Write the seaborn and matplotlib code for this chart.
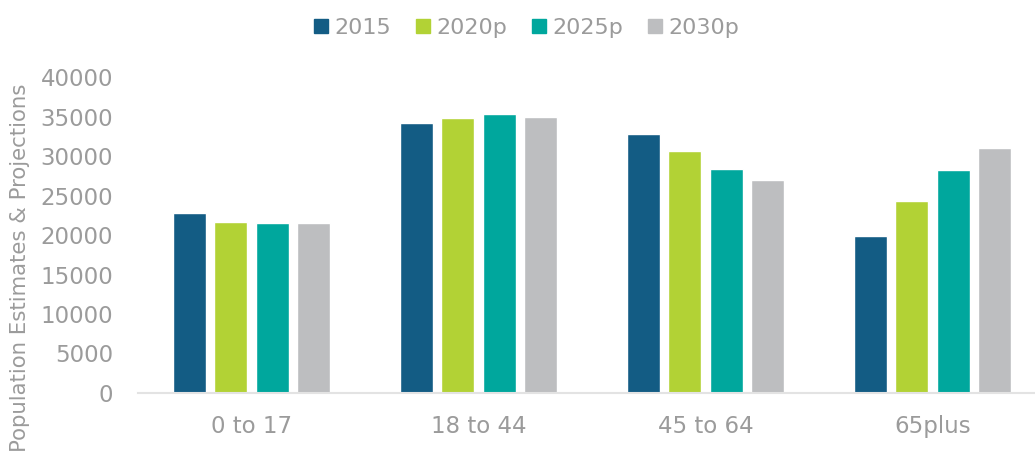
import pandas as pd
import numpy as np
import matplotlib.pyplot as plt
import seaborn as sns

# age groups and the four series
age_groups = ['0 to 17', '18 to 44', '45 to 64', '65plus']
years = ['2015', '2020p', '2025p', '2030p']
vals_2015 = [22750, 34130, 32780, 19870]
vals_2020p = [21680, 34810, 30590, 24300]
vals_2025p = [21470, 35320, 28300, 28230]
vals_2030p = [21520, 34980, 26960, 30970]
colors = ['#135C84', '#B2D235', '#00A79D', '#BDBEC0']
text_grey = '#9B9B9B'

# long format table for seaborn
df = pd.DataFrame({
    'group': age_groups * 4,
    'year': np.repeat(years, 4),
    'value': vals_2015 + vals_2020p + vals_2025p + vals_2030p,
})

sns.set_style('white')
plt.rcParams['font.family'] = ['DejaVu Sans']

fig = plt.figure(figsize=(10.35, 4.55), dpi=100)
ax = fig.add_axes([138 / 1035, 1 - 393 / 455, 908 / 1035, 316 / 455])

sns.barplot(data=df, x='group', y='value', hue='year', palette=colors,
            width=0.73, gap=0.2, ax=ax, legend=False, saturation=1)

ax.set_ylim(0, 40000)
ax.set_xlim(-0.5, 3.5)
ax.set_yticks(range(0, 40001, 5000))
ax.tick_params(axis='both', length=0, labelsize=16.5, labelcolor=text_grey)
ax.tick_params(axis='x', pad=16)
ax.tick_params(axis='y', pad=18)
ax.set_xlabel('')
ax.set_ylabel('Population Estimates & Projections', fontsize=15.3, color=text_grey)
ax.yaxis.set_label_coords(-0.119, 0.397)

for side in ['top', 'right', 'left']:
    ax.spines[side].set_visible(False)
ax.spines['bottom'].set_color('#E3E3E3')
ax.spines['bottom'].set_linewidth(1.5)

# legend on top
handles = [plt.Rectangle((0, 0), 1, 1, color=c) for c in colors]
leg = fig.legend(handles, years, loc='upper center', bbox_to_anchor=(0.509, 1.005),
                 ncol=4, frameon=False, fontsize=16, handlelength=0.63,
                 handleheight=0.63, handletextpad=0.3, columnspacing=1.1)
for t in leg.get_texts():
    t.set_color(text_grey)

fig.savefig('out.png', dpi=100)
